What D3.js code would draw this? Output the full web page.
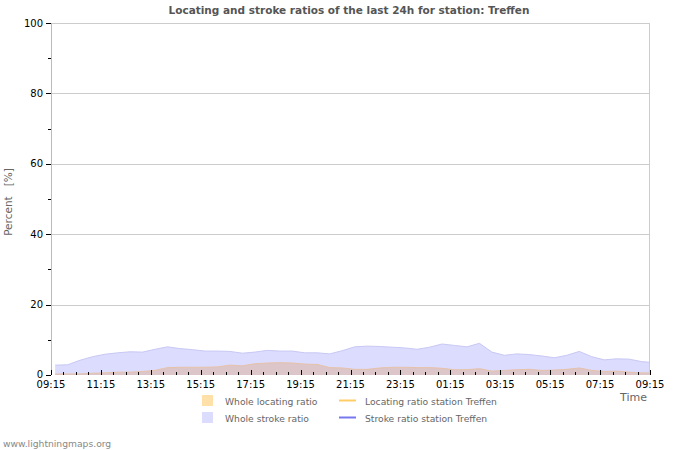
<!DOCTYPE html>
<html>
<head>
<meta charset="utf-8">
<script src="https://cdn.jsdelivr.net/npm/d3@7"></script>
<style>
  body { margin: 0; background: #fff; }
  svg { font-family: "DejaVu Sans", Verdana, sans-serif; }
</style>
</head>
<body>
<div id="chart"></div>
<script>
// sample times (minutes after 09:15 of the first day)
var sampleMinutes = [10, 40, 70, 100, 130, 160, 190, 220, 250, 280, 310, 340, 370, 400, 430, 460,
  490, 520, 550, 580, 610, 640, 670, 700, 730, 760, 790, 820, 850, 880, 910, 940,
  970, 1000, 1030, 1060, 1090, 1120, 1150, 1180, 1210, 1240, 1270, 1300, 1330, 1360, 1390, 1420, 1440];

// whole stroke ratio [%]
var strokeRatio = [2.8, 2.9, 4.2, 5.2, 5.9, 6.3, 6.6, 6.5, 7.3, 8.0, 7.5, 7.2, 6.8, 6.8, 6.7, 6.2,
  6.5, 7.0, 6.8, 6.8, 6.3, 6.3, 6.0, 6.9, 8.0, 8.2, 8.1, 7.9, 7.7, 7.3, 7.9, 8.8,
  8.4, 8.0, 9.0, 6.5, 5.6, 6.0, 5.8, 5.4, 4.9, 5.6, 6.7, 5.2, 4.3, 4.6, 4.5, 3.8, 3.6];

// whole locating ratio [%]
var locatingRatio = [0.3, 0.3, 0.3, 0.5, 0.6, 0.8, 0.8, 1.0, 1.3, 2.1, 2.2, 2.2, 2.2, 2.3, 2.8, 2.6,
  3.2, 3.4, 3.5, 3.4, 3.1, 3.0, 2.1, 2.0, 1.6, 1.6, 2.0, 2.2, 2.2, 2.1, 2.1, 1.9,
  1.5, 1.5, 1.8, 1.1, 1.3, 1.5, 1.6, 1.3, 1.4, 1.6, 2.0, 1.3, 1.0, 1.1, 0.8, 0.6, 0.6];

var yTicks = [0, 20, 40, 60, 80, 100];
var xTickLabels = ["09:15", "11:15", "13:15", "15:15", "17:15", "19:15", "21:15",
  "23:15", "01:15", "03:15", "05:15", "07:15", "09:15"];

var legendAreas = ["Whole locating ratio", "Whole stroke ratio"];
var legendLines = ["Locating ratio station Treffen", "Stroke ratio station Treffen"];

var W = 700, H = 450;
var margin = { top: 23, right: 50, bottom: 75, left: 51 };
var width = W - margin.left - margin.right,
    height = H - margin.top - margin.bottom;

var svg = d3.select("#chart").append("svg")
    .attr("width", W)
    .attr("height", H);

var g = svg.append("g")
    .attr("transform", "translate(" + margin.left + "," + margin.top + ")");

var x = d3.scaleLinear().domain([0, 1440]).range([0, width]);
var y = d3.scaleLinear().domain([0, 100]).range([height, 0]);

var data = sampleMinutes.map(function(m, i) {
    return { m: m, stroke: strokeRatio[i], locating: locatingRatio[i] };
});

// grid lines
g.selectAll(".grid")
    .data(yTicks.filter(function(d) { return d > 0; }))
    .enter().append("line")
    .attr("x1", 0).attr("x2", width)
    .attr("y1", function(d) { return Math.round(y(d)) + 0.5; })
    .attr("y2", function(d) { return Math.round(y(d)) + 0.5; })
    .style("stroke", "#cccccc");

// areas
var strokeArea = d3.area()
    .x(function(d) { return x(d.m); })
    .y0(y(0))
    .y1(function(d) { return y(d.stroke); });

var locArea = d3.area()
    .x(function(d) { return x(d.m); })
    .y0(y(0))
    .y1(function(d) { return y(d.locating); });

g.append("path").datum(data)
    .attr("d", strokeArea)
    .style("fill", "#dcdcff");
g.append("path").datum(data)
    .attr("d", d3.line().x(function(d) { return x(d.m); }).y(function(d) { return y(d.stroke); }))
    .style("fill", "none").style("stroke", "#c8c8f4").style("stroke-width", 1);

g.append("path").datum(data)
    .attr("d", locArea)
    .style("fill", "#dcc6ca");
g.append("path").datum(data)
    .attr("d", d3.line().x(function(d) { return x(d.m); }).y(function(d) { return y(d.locating); }))
    .style("fill", "none").style("stroke", "#e6c2a8").style("stroke-width", 1);

// frame: left axis, right border
g.append("line").attr("x1", 0.5).attr("x2", 0.5).attr("y1", 0).attr("y2", height)
    .style("stroke", "#bbbbbb");
g.append("line").attr("x1", width - 0.5).attr("x2", width - 0.5).attr("y1", 0).attr("y2", height)
    .style("stroke", "#cccccc");

// y ticks
var yMinor = d3.range(0, 101, 10);
g.selectAll(".ytick")
    .data(yMinor)
    .enter().append("line")
    .attr("x1", function(d) { return d % 20 === 0 ? -5 : -3; })
    .attr("x2", 0)
    .attr("y1", function(d) { return Math.round(y(d)) + 0.5; })
    .attr("y2", function(d) { return Math.round(y(d)) + 0.5; })
    .style("stroke", "#000");

g.selectAll(".ylab")
    .data(yTicks)
    .enter().append("text")
    .attr("x", -8)
    .attr("y", function(d) { return y(d) + (d === 0 ? 2.5 : 3.5); })
    .attr("text-anchor", "end")
    .style("font-size", "10px")
    .style("fill", "#000")
    .text(function(d) { return d; });

// x ticks (every 30 min, major every 2h)
var xMinor = d3.range(0, 1441, 30);
g.selectAll(".xtick")
    .data(xMinor)
    .enter().append("line")
    .attr("x1", function(d) { return Math.round(x(d)) + 0.5; })
    .attr("x2", function(d) { return Math.round(x(d)) + 0.5; })
    .attr("y1", height)
    .attr("y2", function(d) { return d % 120 === 0 ? height - 5 : height - 3; })
    .style("stroke", "#000");

g.selectAll(".xlab")
    .data(xTickLabels)
    .enter().append("text")
    .attr("x", function(d, i) { return x(i * 120); })
    .attr("y", height + 12.5)
    .attr("text-anchor", "middle")
    .style("font-size", "10px")
    .style("fill", "#000")
    .text(function(d) { return d; });

// title
svg.append("text")
    .attr("x", 349).attr("y", 14)
    .attr("text-anchor", "middle")
    .style("font-size", "10.5px")
    .style("font-weight", "bold")
    .style("fill", "#555")
    .text("Locating and stroke ratios of the last 24h for station: Treffen");

// axis titles
svg.append("text")
    .attr("transform", "translate(12," + (margin.top + height / 2 + 3) + ") rotate(-90)")
    .attr("text-anchor", "middle")
    .style("font-size", "10.5px")
    .style("fill", "#666")
    .attr("xml:space", "preserve")
    .text("Percent   [%]");

svg.append("text")
    .attr("x", 647).attr("y", 401)
    .attr("text-anchor", "end")
    .style("font-size", "11px")
    .style("fill", "#666")
    .text("Time");

// legend
var areaColors = ["#ffe0a8", "#dcdcff"];
var lineColors = ["#ffcc66", "#7777ee"];

legendAreas.forEach(function(t, i) {
    svg.append("rect")
        .attr("x", 202).attr("y", 395 + i * 17)
        .attr("width", 11).attr("height", 11)
        .style("fill", areaColors[i]);
    svg.append("text")
        .attr("x", 225).attr("y", 405 + i * 17)
        .style("font-size", "9.2px")
        .style("fill", "#666")
        .text(t);
});

legendLines.forEach(function(t, i) {
    svg.append("line")
        .attr("x1", 339).attr("x2", 356)
        .attr("y1", 400.5 + i * 17).attr("y2", 400.5 + i * 17)
        .style("stroke", lineColors[i])
        .style("stroke-width", 2);
    svg.append("text")
        .attr("x", 365).attr("y", 405 + i * 17)
        .style("font-size", "9.2px")
        .style("fill", "#666")
        .text(t);
});

// footer
svg.append("text")
    .attr("x", 3).attr("y", 447)
    .style("font-size", "9.2px")
    .style("fill", "#888")
    .text("www.lightningmaps.org");
</script>
</body>
</html>
